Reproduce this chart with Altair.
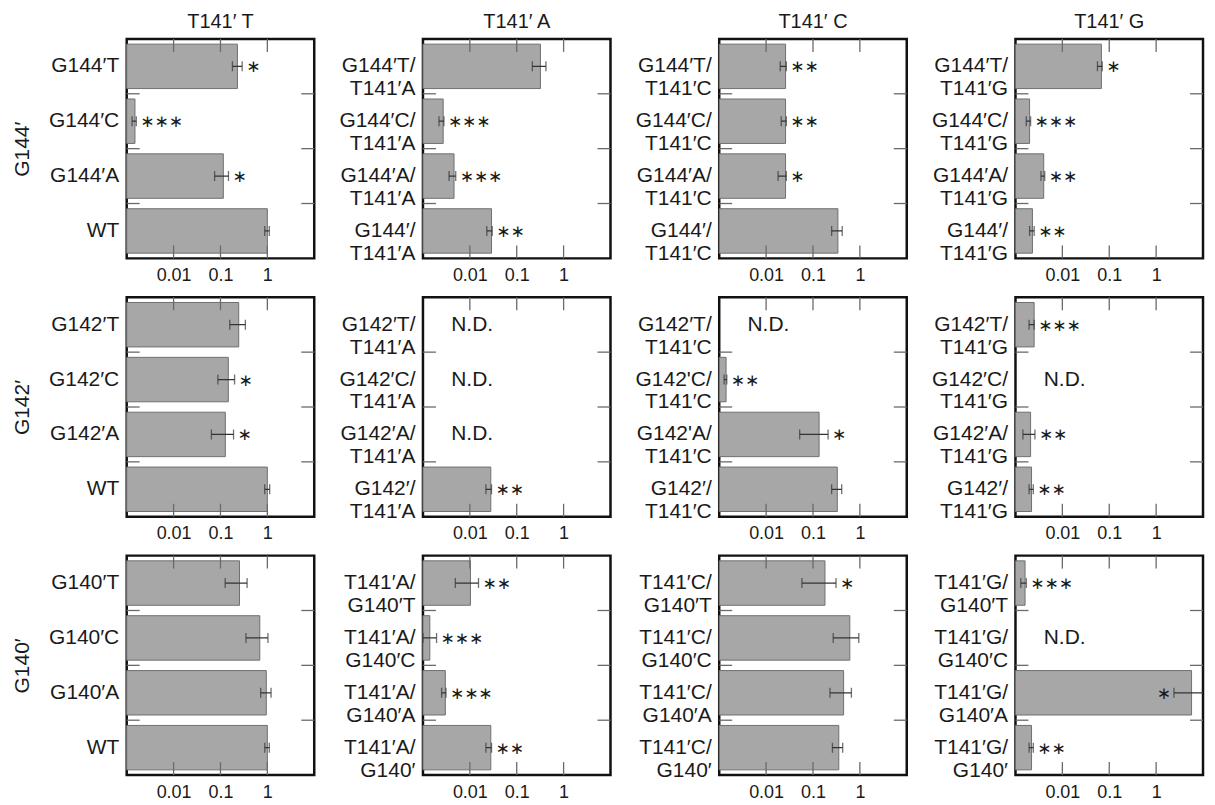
import altair as alt
import pandas as pd

FONT = "Liberation Sans"
STAR_FONT = "DejaVu Sans"
INK = "#1a1a1a"

COL_TITLES = ["T141′ T", "T141′ A", "T141′ C", "T141′ G"]
ROW_TITLES = ["G144′", "G142′", "G140′"]
TICK_VALUES = [0.01, 0.1, 1]
X_DOMAIN = [0.001, 10]
ND_AT = 0.004

# ---- row G144′ (columns: T, A, C, G) ----
G144_LABELS = [
    ["G144′T", "G144′C", "G144′A", "WT"],
    ["G144′T/\nT141′A", "G144′C/\nT141′A", "G144′A/\nT141′A", "G144′/\nT141′A"],
    ["G144′T/\nT141′C", "G144′C/\nT141′C", "G144′A/\nT141′C", "G144′/\nT141′C"],
    ["G144′T/\nT141′G", "G144′C/\nT141′G", "G144′A/\nT141′G", "G144′/\nT141′G"],
]
G144_VALUES = [[0.23, 0.0015, 0.115, 1.0], [0.32, 0.0027, 0.0046, 0.029],
               [0.026, 0.026, 0.026, 0.34], [0.068, 0.002, 0.004, 0.0023]]
G144_LO = [[0.18, 0.0013, 0.075, 0.88], [0.215, 0.0022, 0.0036, 0.023],
           [0.020, 0.021, 0.018, 0.25], [0.056, 0.0017, 0.0035, 0.0020]]
G144_HI = [[0.29, 0.0016, 0.148, 1.1], [0.42, 0.0028, 0.005, 0.030],
           [0.027, 0.027, 0.027, 0.42], [0.071, 0.0021, 0.0042, 0.0025]]
G144_SIG = [["*", "***", "*", ""], ["", "***", "***", "**"],
            ["**", "**", "*", ""], ["*", "***", "**", "**"]]

# ---- row G142′ ----
G142_LABELS = [
    ["G142′T", "G142′C", "G142′A", "WT"],
    ["G142′T/\nT141′A", "G142′C/\nT141′A", "G142′A/\nT141′A", "G142′/\nT141′A"],
    ["G142′T/\nT141′C", "G142'C/\nT141′C", "G142'A/\nT141′C", "G142′/\nT141′C"],
    ["G142′T/\nT141′G", "G142′C/\nT141′G", "G142′A/\nT141′G", "G142′/\nT141′G"],
]
G142_VALUES = [[0.245, 0.147, 0.127, 1.0], [None, None, None, 0.028],
               [None, 0.0014, 0.135, 0.33], [0.0025, None, 0.0021, 0.0022]]
G142_LO = [[0.158, 0.088, 0.064, 0.88], [None, None, None, 0.022],
           [None, 0.00127, 0.052, 0.25], [0.00195, None, 0.00144, 0.00195]]
G142_HI = [[0.34, 0.20, 0.19, 1.12], [None, None, None, 0.029],
           [None, 0.00145, 0.21, 0.41], [0.0025, None, 0.0026, 0.0024]]
G142_SIG = [["", "*", "*", ""], ["", "", "", "**"],
            ["", "**", "*", ""], ["***", "", "**", "**"]]

# ---- row G140′ ----
G140_LABELS = [
    ["G140′T", "G140′C", "G140′A", "WT"],
    ["T141′A/\nG140′T", "T141′A/\nG140′C", "T141′A/\nG140′A", "T141′A/\nG140′"],
    ["T141′C/\nG140′T", "T141′C/\nG140′C", "T141′C/\nG140′A", "T141′C/\nG140′"],
    ["T141′G/\nG140′T", "T141′G/\nG140′C", "T141′G/\nG140′A", "T141′G/\nG140′"],
]
G140_VALUES = [[0.255, 0.69, 0.95, 1.0], [0.0103, 0.0014, 0.003, 0.028],
               [0.18, 0.61, 0.45, 0.355], [0.0016, None, 5.7, 0.0022]]
G140_LO = [[0.126, 0.35, 0.72, 0.88], [0.0049, 0.001, 0.0025, 0.022],
           [0.058, 0.27, 0.23, 0.26], [0.0013, None, 2.4, 0.00195]]
G140_HI = [[0.37, 1.03, 1.2, 1.1], [0.0153, 0.00195, 0.0031, 0.029],
           [0.31, 0.95, 0.66, 0.43], [0.0017, None, 13.0, 0.0024]]
G140_SIG = [["", "", "", ""], ["**", "***", "***", "**"],
            ["*", "", "", ""], ["***", "", "*", "**"]]

ROWS = [
    (G144_LABELS, G144_VALUES, G144_LO, G144_HI, G144_SIG),
    (G142_LABELS, G142_VALUES, G142_LO, G142_HI, G142_SIG),
    (G140_LABELS, G140_VALUES, G140_LO, G140_HI, G140_SIG),
]

W, H = 188, 220
TICK_LEN = 13
TICK_COLOR = "#6a6a6a"


def panel(r, c):
    labels, values, los, his, sigs = (a[c] for a in ROWS[r])
    df = pd.DataFrame({
        "cat": labels,
        "value": values,
        "lo": los,
        "hi": his,
        "sig": [s.replace("*", "∗") for s in sigs],
    })
    df["base"] = X_DOMAIN[0]
    measured = df[df["value"].notna()].copy()
    nd = df[df["value"].isna()].copy()
    nd["txt"] = "N.D."
    stars = measured[measured["sig"] != ""]
    stars_r = stars[stars["hi"] < X_DOMAIN[1]]
    stars_l = stars[stars["hi"] >= X_DOMAIN[1]]

    xsc = alt.Scale(type="log", domain=X_DOMAIN, nice=False)
    ysc = alt.Scale(type="band", domain=labels, paddingInner=0, paddingOuter=0)

    def Y(**kw):
        return alt.Y("cat:N", scale=ysc, sort=labels, **kw)

    def X(field):
        return alt.X(field, scale=xsc)

    yaxis_kw = dict(
        ticks=False, domain=False, grid=False,
        labelExpr="split(datum.label, '\\n')",
        labelFontSize=21, labelLineHeight=23, labelPadding=8,
        labelColor=INK, labelLimit=200,
    )
    if c == 0:
        yaxis_kw.update(title=ROW_TITLES[r], titlePadding=16, titleFontSize=21)
    else:
        yaxis_kw.update(title=None)

    bars = alt.Chart(measured).mark_bar(
        height={"band": 0.81}, fill="#a7a7a7", stroke="#6f6f6f", strokeWidth=1
    ).encode(
        x=alt.X("value:Q", scale=xsc, axis=alt.Axis(
            values=TICK_VALUES, format="~g", title=None, ticks=False, domain=False,
            grid=False, labelFontSize=18, labelPadding=8, labelColor=INK,
            labelFlush=False, labelOverlap=False)),
        x2="base:Q",
        y=alt.Y("cat:N", scale=ysc, sort=labels, axis=alt.Axis(**yaxis_kw)),
    )
    err = alt.Chart(measured).mark_rule(color="#333333", strokeWidth=1.3, clip=True).encode(
        x=X("lo:Q"), x2="hi:Q", y=Y())
    cap_lo = alt.Chart(measured).mark_tick(color="#333333", size=10, thickness=1.3, clip=True).encode(
        x=X("lo:Q"), y=Y())
    cap_hi = alt.Chart(measured).mark_tick(color="#333333", size=10, thickness=1.3, clip=True).encode(
        x=X("hi:Q"), y=Y())

    layers = [bars, err, cap_lo, cap_hi]
    if len(stars_r):
        layers.append(alt.Chart(stars_r).mark_text(
            align="left", baseline="middle", dx=4, dy=1, font=STAR_FONT, fontSize=17, color=INK
        ).encode(x=X("hi:Q"), y=Y(), text="sig:N"))
    if len(stars_l):
        layers.append(alt.Chart(stars_l).mark_text(
            align="right", baseline="middle", dx=-3, dy=1, font=STAR_FONT, fontSize=17, color=INK
        ).encode(x=X("lo:Q"), y=Y(), text="sig:N"))
    if len(nd):
        layers.append(alt.Chart(nd).mark_text(
            align="left", baseline="middle", font=FONT, fontSize=21, color=INK
        ).encode(x=alt.XDatum(ND_AT, scale=xsc), y=Y(), text="txt:N"))

    xt = pd.DataFrame({"t": TICK_VALUES})
    layers.append(alt.Chart(xt).mark_rule(color=TICK_COLOR, strokeWidth=1.3).encode(
        x=X("t:Q"), y=alt.value(0), y2=alt.value(TICK_LEN)))
    layers.append(alt.Chart(xt).mark_rule(color=TICK_COLOR, strokeWidth=1.3).encode(
        x=X("t:Q"), y=alt.value(H - TICK_LEN), y2=alt.value(H)))
    yt = pd.DataFrame({"cat": labels[1:]})
    layers.append(alt.Chart(yt).mark_rule(color=TICK_COLOR, strokeWidth=1.3).encode(
        y=Y(bandPosition=0), x=alt.value(0), x2=alt.value(TICK_LEN)))
    layers.append(alt.Chart(yt).mark_rule(color=TICK_COLOR, strokeWidth=1.3).encode(
        y=Y(bandPosition=0), x=alt.value(W - TICK_LEN), x2=alt.value(W)))

    ch = alt.layer(*layers).properties(width=W, height=H)
    if r == 0:
        ch = ch.properties(title=alt.Title(COL_TITLES[c], fontSize=20, fontWeight="normal",
                                           font=FONT, color=INK, offset=6, frame="group",
                                           anchor="middle"))
    return ch


panels = [panel(r, c) for r in range(3) for c in range(4)]

chart = alt.concat(*panels, columns=4, spacing={"row": 9, "column": 21}).properties(
    padding={"left": 2, "top": 2, "right": 2, "bottom": 2}
).configure(font=FONT).configure_view(
    stroke="#111111", strokeWidth=2.5
).configure_axis(
    titleFont=FONT, labelFont=FONT, titleFontWeight="normal", titleColor=INK
)

chart.save("out.html", embed_options={"renderer": "svg", "actions": False})
